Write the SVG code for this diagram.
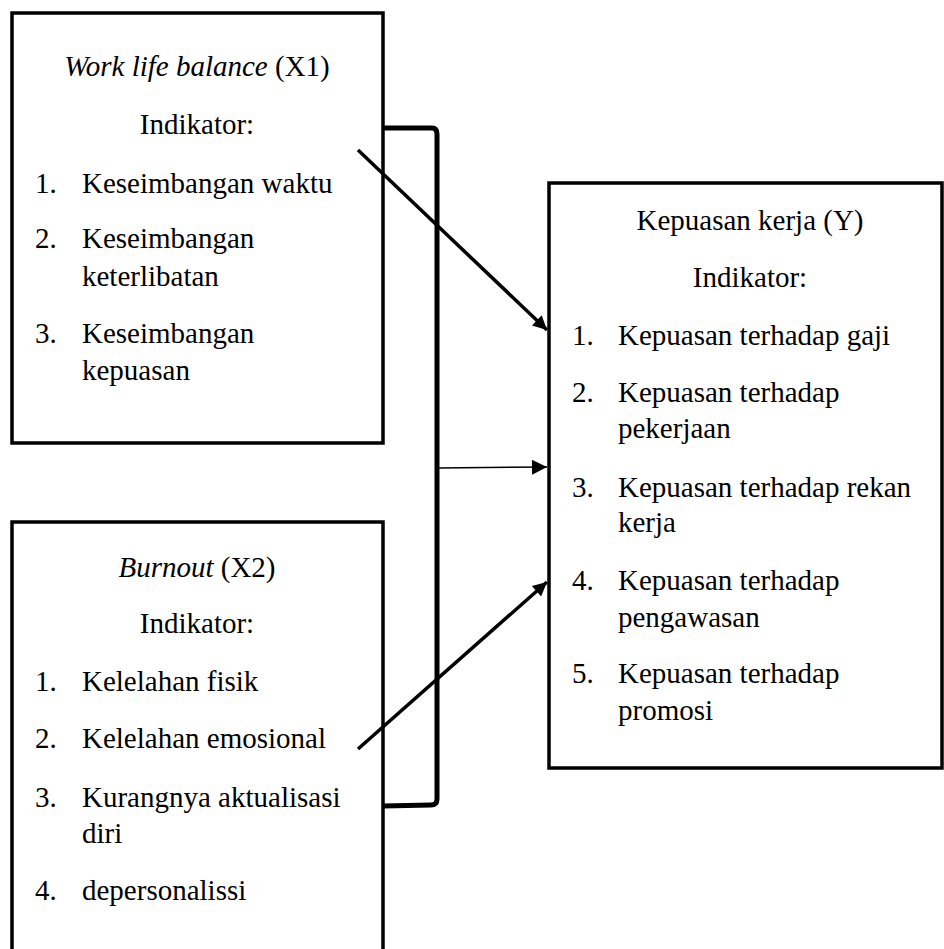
<svg xmlns="http://www.w3.org/2000/svg" width="944" height="949" viewBox="0 0 944 949">
<style>
text{font-family:"Liberation Serif","Times New Roman",serif;font-size:29px;fill:#000}
.c{text-anchor:middle}
.i{font-style:italic}
.box{fill:#fff;stroke:#000;stroke-width:3.5}
.arr{stroke:#000;stroke-width:3.5;fill:none}
.thin{stroke:#000;stroke-width:1.5;fill:none}
.br{stroke:#000;stroke-width:5;fill:none}
</style>
<defs>
<marker id="ah" viewBox="0 0 10 10" refX="10" refY="5" markerWidth="5" markerHeight="4" markerUnits="strokeWidth" orient="auto">
<path d="M0,0 L10,5 L0,10 z" fill="#000"/>
</marker>
<marker id="ah2" viewBox="0 0 10 10" refX="10" refY="5" markerWidth="11" markerHeight="10" markerUnits="strokeWidth" orient="auto">
<path d="M0,0 L10,5 L0,10 z" fill="#000"/>
</marker>
</defs>
<g id="x1">
<rect class="box" x="12" y="13" width="371" height="430"/>
<text class="c" x="197" y="76"><tspan class="i">Work life balance</tspan> (X1)</text>
<text class="c" x="197" y="134">Indikator:</text>
<text x="35" y="193">1.</text><text x="82" y="193">Keseimbangan waktu</text>
<text x="35" y="248">2.</text><text x="82" y="248">Keseimbangan</text>
<text x="82" y="286">keterlibatan</text>
<text x="35" y="343">3.</text><text x="82" y="343">Keseimbangan</text>
<text x="82" y="380">kepuasan</text>
</g>
<g id="x2">
<rect class="box" x="12" y="522" width="371" height="450"/>
<text class="c" x="197" y="577"><tspan class="i">Burnout</tspan> (X2)</text>
<text class="c" x="197" y="633">Indikator:</text>
<text x="35" y="691">1.</text><text x="82" y="691">Kelelahan fisik</text>
<text x="35" y="748">2.</text><text x="82" y="748">Kelelahan emosional</text>
<text x="35" y="807">3.</text><text x="82" y="807">Kurangnya aktualisasi</text>
<text x="82" y="843">diri</text>
<text x="35" y="900">4.</text><text x="82" y="900">depersonalissi</text>
</g>
<g id="y">
<rect class="box" x="549" y="183" width="393" height="585"/>
<text class="c" x="750" y="230">Kepuasan kerja (Y)</text>
<text class="c" x="750" y="287">Indikator:</text>
<text x="572" y="345">1.</text><text x="618" y="345">Kepuasan terhadap gaji</text>
<text x="572" y="402">2.</text><text x="618" y="402">Kepuasan terhadap</text>
<text x="618" y="438">pekerjaan</text>
<text x="572" y="497">3.</text><text x="618" y="497">Kepuasan terhadap rekan</text>
<text x="618" y="532">kerja</text>
<text x="572" y="590">4.</text><text x="618" y="590">Kepuasan terhadap</text>
<text x="618" y="627">pengawasan</text>
<text x="572" y="683">5.</text><text x="618" y="683">Kepuasan terhadap</text>
<text x="618" y="720">promosi</text>
</g>
<g id="connectors">
<path class="br" d="M383,128 L432,128 Q437,128 437,134 L437,799 Q437,805 431,805 L383,806"/>
<line class="arr" x1="358" y1="150" x2="547" y2="330" marker-end="url(#ah)"/>
<line class="arr" x1="358" y1="749" x2="547" y2="582" marker-end="url(#ah)"/>
<line class="thin" x1="438" y1="468" x2="547" y2="467" marker-end="url(#ah2)"/>
</g>
</svg>
